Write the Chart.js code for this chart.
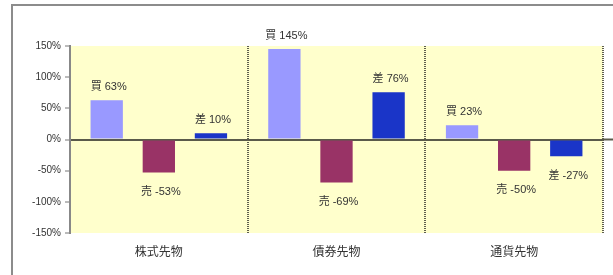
<!DOCTYPE html>
<html>
<head>
<meta charset="utf-8">
<script src="https://cdn.jsdelivr.net/npm/chart.js@4/dist/chart.umd.min.js"></script>
<style>
  html, body { margin: 0; padding: 0; background: #fff; }
  #wrap { width: 613px; height: 275px; }
</style>
</head>
<body>
<div id="wrap"><canvas id="myBarChart" width="613" height="275"></canvas></div>
<script>
// data (percent)
const categories = ['株式先物', '債券先物', '通貨先物'];
const seriesNames = ['買', '売', '差'];
const buyValues = [63, 145, 23];
const sellValues = [-53, -69, -50];
const diffValues = [10, 76, -27];
const yTicks = [-150, -100, -50, 0, 50, 100, 150];

const JP = '"Liberation Sans", "Noto Sans CJK JP", sans-serif';

// frame + yellow plot background
const backdrop = {
    id: 'backdrop',
    beforeDraw(chart) {
        const c = chart.ctx;
        const a = chart.chartArea;
        c.save();
        c.fillStyle = '#fff';
        c.fillRect(0, 0, chart.width, chart.height);
        c.fillStyle = '#FFFFCC';
        c.fillRect(a.left, a.top, a.right - a.left, a.bottom - a.top);
        c.strokeStyle = '#8c8c8c';
        c.lineWidth = 2;
        c.beginPath();
        c.moveTo(12, 275);
        c.lineTo(12, 5);
        c.lineTo(613, 5);
        c.stroke();
        c.restore();
    },
    // zero line runs a little past the plot on the right
    afterDraw(chart) {
        const c = chart.ctx;
        const y0 = chart.scales.y.getPixelForValue(0);
        c.save();
        c.strokeStyle = '#5a5a4a';
        c.lineWidth = 2;
        c.beginPath();
        c.moveTo(chart.chartArea.right, y0);
        c.lineTo(chart.width, y0);
        c.stroke();
        c.restore();
    }
};

// "買 63%" style labels at bar ends
const barLabels = {
    id: 'barLabels',
    afterDatasetsDraw(chart) {
        const c = chart.ctx;
        c.save();
        c.font = '11px ' + JP;
        c.fillStyle = '#333';
        c.textAlign = 'center';
        chart.data.datasets.forEach(function (ds, i) {
            const meta = chart.getDatasetMeta(i);
            meta.data.forEach(function (bar, j) {
                const v = ds.data[j];
                const text = ds.label + ' ' + v + '%';
                if (v >= 0) {
                    c.textBaseline = 'bottom';
                    c.fillText(text, bar.x + 2, bar.y - 8);
                } else {
                    c.textBaseline = 'top';
                    c.fillText(text, bar.x + 2, bar.y + 14);
                }
            });
        });
        c.restore();
    }
};

document.addEventListener('DOMContentLoaded', function () {
    const ctx = document.getElementById('myBarChart').getContext('2d');
    const myBarChart = new Chart(ctx, {
        type: 'bar',
        data: {
            labels: categories,
            datasets: [{
                label: seriesNames[0],
                data: buyValues,
                backgroundColor: '#9999FF'
            }, {
                label: seriesNames[1],
                data: sellValues,
                backgroundColor: '#993366'
            }, {
                label: seriesNames[2],
                data: diffValues,
                backgroundColor: '#1A35C8'
            }]
        },
        options: {
            responsive: false,
            animation: false,
            layout: {
                padding: { top: 46, right: 10, bottom: 0, left: 0 }
            },
            datasets: {
                bar: {
                    categoryPercentage: 0.88,
                    barPercentage: 0.62
                }
            },
            scales: {
                x: {
                    afterFit: function (scale) { scale.height = 42; },
                    grid: {
                        offset: true,
                        drawTicks: false,
                        lineWidth: 2,
                        color: function (c) { return c.index === 0 ? 'rgba(0,0,0,0)' : '#5e5e4e'; }
                    },
                    border: { display: false, dash: [1, 1] },
                    ticks: {
                        padding: 12,
                        color: '#333',
                        font: { family: JP, size: 12 }
                    }
                },
                y: {
                    min: -150,
                    max: 150,
                    afterFit: function (scale) { scale.width = 70; },
                    afterBuildTicks: function (scale) {
                        scale.ticks = yTicks.map(function (v) { return { value: v }; });
                    },
                    grid: {
                        lineWidth: 2,
                        color: function (c) { return c.tick && c.tick.value === 0 ? '#5a5a4a' : 'rgba(0,0,0,0)'; },
                        tickColor: '#777',
                        tickLength: 5,
                        tickWidth: 1
                    },
                    border: { display: true, color: '#888', width: 2 },
                    ticks: {
                        padding: 4,
                        color: '#333',
                        font: { family: JP, size: 10 },
                        callback: function (v) { return v + '%'; }
                    }
                }
            },
            plugins: {
                legend: { display: false },
                tooltip: { enabled: false },
                title: { display: false }
            }
        },
        plugins: [backdrop, barLabels]
    });
});
</script>
</body>
</html>
